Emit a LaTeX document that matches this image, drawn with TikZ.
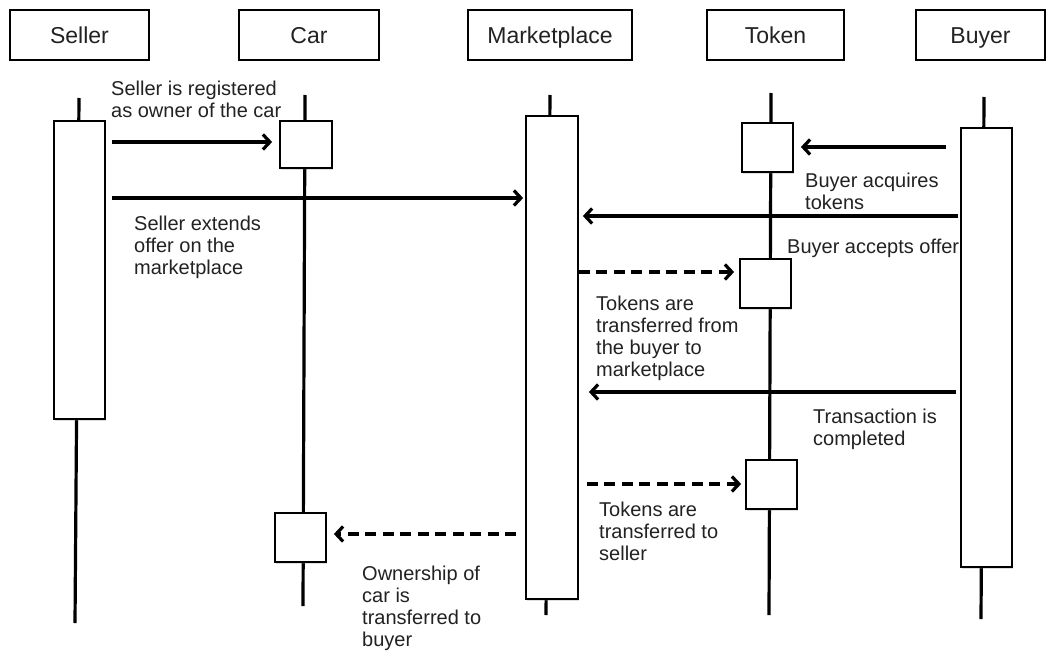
\documentclass[tikz,border=0pt]{standalone}
\usepackage{fontspec}
\setmainfont{Liberation Sans}
\usetikzlibrary{arrows.meta,shadows}
\definecolor{txt}{HTML}{222222}
\begin{document}
\begin{tikzpicture}[x=1pt,y=-1pt,
  head/.style={draw=black, line width=1.8pt, fill=white, inner sep=0pt, minimum height=50pt,
    font=\fontsize{23}{27}\selectfont, text=txt, text height=19pt, text depth=1pt,
    drop shadow={opacity=0.25, shadow xshift=1pt, shadow yshift=-1.5pt}},
  act/.style={draw=black, line width=1.8pt, fill=white, inner sep=0pt,
    drop shadow={opacity=0.25, shadow xshift=1pt, shadow yshift=-1.5pt}},
  life/.style={line width=3.2pt, black},
  msg/.style={line width=3.2pt, -{Straight Barb[length=7pt,width=15pt]}},
  ret/.style={msg, dash pattern=on 11pt off 6.5pt},
  lbl/.style={anchor=north west, inner sep=0pt, align=left,
    font=\fontsize{20}{22}\selectfont, text=txt}]
\useasboundingbox[fill=white] (0,0) rectangle (1048,650);

% headers
\node[head, minimum width=139pt] (hs) at (79.5,35) {Seller};
\node[head, minimum width=140pt] (hc) at (309,35) {Car};
\node[head, minimum width=164pt] (hm) at (550,35) {Marketplace};
\node[head, minimum width=137pt] (ht) at (775.5,35) {Token};
\node[head, minimum width=129pt] (hb) at (980.5,35) {Buyer};

% lifelines
\coordinate (sT) at (79,98);  \coordinate (sB) at (75,623);
\coordinate (cT) at (305,95); \coordinate (cB) at (303,606);
\coordinate (mT) at (550,95); \coordinate (mB) at (546,615);
\coordinate (tT) at (771,93); \coordinate (tB) at (769,615);
\coordinate (bT) at (984,97); \coordinate (bB) at (981,619);
\draw[life] (sT) -- (sB);
\draw[life] (cT) -- (cB);
\draw[life] (mT) -- (mB);
\draw[life] (tT) -- (tB);
\draw[life] (bT) -- (bB);

% activation boxes
\node[act, minimum width=51pt, minimum height=298pt] (sact) at (79.5,270) {};
\node[act, minimum width=52pt, minimum height=47pt] (cact1) at (306,144.5) {};
\node[act, minimum width=51pt, minimum height=49pt] (cact2) at (300.5,537.5) {};
\node[act, minimum width=52pt, minimum height=483pt] (mact) at (552,357.5) {};
\node[act, minimum width=51pt, minimum height=49pt] (tact1) at (767.5,147.5) {};
\node[act, minimum width=51pt, minimum height=49pt] (tact2) at (765.5,283.5) {};
\node[act, minimum width=51pt, minimum height=49pt] (tact3) at (771.5,484.5) {};
\node[act, minimum width=51pt, minimum height=439pt] (bact) at (986.5,347.5) {};

% messages
\draw[msg, shorten <=6pt, shorten >=7pt] (sact.east |- 0,142) -- (cact1.west |- 0,142);
\draw[msg, shorten <=6pt, shorten >=2pt] (sact.east |- 0,198) -- (mact.west |- 0,198);
\draw[msg, shorten <=14pt, shorten >=7pt] (bact.west |- 0,147) -- (tact1.east |- 0,147);
\draw[msg, shorten <=2pt, shorten >=4pt] (bact.west |- 0,216) -- (mact.east |- 0,216);
\draw[ret, shorten <=0pt, shorten >=5pt] (mact.east |- 0,272) -- (tact2.west |- 0,272);
\draw[msg, shorten <=4pt, shorten >=10pt] (bact.west |- 0,392) -- (mact.east |- 0,392);
\draw[ret, shorten <=8pt, shorten >=4pt] (mact.east |- 0,484) -- (tact3.west |- 0,484);
\draw[ret, shorten <=9pt, shorten >=7pt] (mact.west |- 0,534) -- (cact2.east |- 0,534);

% labels
\node[lbl] (l1) at (111,81) {Seller is registered\\as owner of the car};
\node[lbl] (l2) at (134,216) {Seller extends\\offer on the\\marketplace};
\node[lbl] (l3) at (805,173) {Buyer acquires\\tokens};
\node[lbl] (l4) at (787,239) {Buyer accepts offer};
\node[lbl] (l5) at (596,296) {Tokens are\\transferred from\\the buyer to\\marketplace};
\node[lbl] (l6) at (813,409) {Transaction is\\completed};
\node[lbl] (l7) at (599,502) {Tokens are\\transferred to\\seller};
\node[lbl] (l8) at (362,566) {Ownership of\\car is\\transferred to\\buyer};
\end{tikzpicture}
\end{document}
